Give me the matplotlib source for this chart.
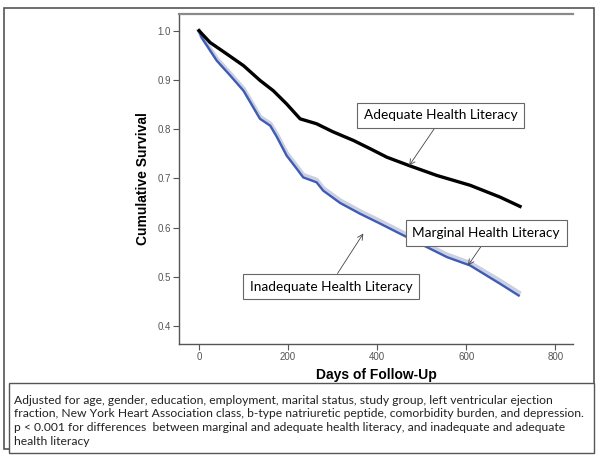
import matplotlib
matplotlib.use("Agg")
import matplotlib.pyplot as plt
from matplotlib.patches import Rectangle

# ---- data ----
adequate_days = [0, 25, 62, 100, 137, 167, 197, 227, 264, 300, 347, 385, 422, 472, 534, 609, 676, 721]
adequate_surv = [1.0, 0.976, 0.953, 0.929, 0.899, 0.878, 0.851, 0.821, 0.811, 0.795, 0.777, 0.760, 0.743, 0.726, 0.706, 0.686, 0.662, 0.643]

inadequate_days = [0, 6, 40, 70, 100, 115, 137, 160, 175, 197, 220, 234, 264, 279, 317, 362, 407, 444, 497, 557, 609, 676, 718]
inadequate_surv = [1.0, 0.986, 0.939, 0.909, 0.878, 0.855, 0.821, 0.807, 0.784, 0.746, 0.719, 0.702, 0.692, 0.675, 0.650, 0.628, 0.608, 0.591, 0.567, 0.540, 0.523, 0.486, 0.462]

marginal_days = [0, 6, 40, 70, 100, 115, 137, 160, 175, 197, 220, 234, 264, 279, 317, 362, 407, 444, 497, 557, 609, 676, 718]
marginal_surv = [1.0, 0.988, 0.943, 0.913, 0.882, 0.859, 0.825, 0.811, 0.789, 0.751, 0.724, 0.707, 0.697, 0.680, 0.655, 0.633, 0.613, 0.596, 0.572, 0.545, 0.528, 0.492, 0.468]

x_ticks = [0, 200, 400, 600, 800]
y_ticks = [0.4, 0.5, 0.6, 0.7, 0.8, 0.9, 1.0]

footnote_lines = [
    "Adjusted for age, gender, education, employment, marital status, study group, left ventricular ejection",
    "fraction, New York Heart Association class, b-type natriuretic peptide, comorbidity burden, and depression.",
    "p < 0.001 for differences  between marginal and adequate health literacy, and inadequate and adequate",
    "health literacy",
]

W, H = 600, 461
plt.rcParams["font.family"] = ["Liberation Sans", "DejaVu Sans"]
fig = plt.figure(figsize=(6, 4.61), dpi=100)
fig.patch.set_facecolor("white")

ax = fig.add_axes([179 / W, 1 - 344 / H, (573 - 179) / W, (344 - 14) / H])
ax.set_xlim(-45, 840)
ax.set_ylim(0.3635, 1.034)

ax.plot(marginal_days, marginal_surv, color="#c9d0e2", lw=3.2, solid_joinstyle="round", zorder=2)
ax.plot(inadequate_days, inadequate_surv, color="#3f5bb5", lw=1.7, solid_joinstyle="round", zorder=3)
ax.plot(adequate_days, adequate_surv, color="black", lw=2.4, solid_joinstyle="round", zorder=4)

ax.spines["right"].set_visible(False)
for s in ["left", "bottom"]:
    ax.spines[s].set_color("#555555")
    ax.spines[s].set_linewidth(1.0)
ax.spines["top"].set_color("#8a8a8a")
ax.spines["top"].set_linewidth(1.6)

ax.set_xticks(x_ticks)
ax.set_yticks(y_ticks)
ax.set_yticklabels([f"{v:.1f}" for v in y_ticks])
ax.tick_params(axis="both", direction="out", length=4, width=0.8, color="#555555",
               labelsize=7, labelcolor="#555555", pad=2)

ax.set_xlabel("Days of Follow-Up", fontsize=10, fontweight="bold", labelpad=4)
ax.set_ylabel("Cumulative Survival", fontsize=10, fontweight="bold", labelpad=5)

box = dict(boxstyle="square,pad=0.5", fc="white", ec="#666666", lw=0.8)
arrow = dict(arrowstyle="->", color="#444444", lw=0.6, shrinkA=0, shrinkB=0)
fam = ["Lato", "DejaVu Sans"]

ax.annotate("Adequate Health Literacy", xy=(472, 0.726), xytext=(543, 0.828),
            ha="center", va="center", fontsize=9.8, family=fam, bbox=box,
            arrowprops=dict(arrow, relpos=(0.49, 0.0)), zorder=6)
ax.annotate("Marginal Health Literacy", xy=(604, 0.523), xytext=(645, 0.589),
            ha="center", va="center", fontsize=9.8, family=fam, bbox=box,
            arrowprops=dict(arrow, relpos=(0.5, 0.0)), zorder=6)
ax.annotate("Inadequate Health Literacy", xy=(369, 0.588), xytext=(297, 0.480),
            ha="center", va="center", fontsize=9.8, family=fam, bbox=box,
            arrowprops=dict(arrow, relpos=(0.51, 1.0)), zorder=6)

# outer frame and footnote box
fig.add_artist(Rectangle((4 / W, 1 - 449 / H), 590 / W, 441 / H, transform=fig.transFigure,
                         fill=False, ec="#555555", lw=1.2))
fig.add_artist(Rectangle((9 / W, 1 - 453 / H), 585 / W, 70 / H, transform=fig.transFigure,
                         fc="white", ec="#555555", lw=1.0))

for i, line in enumerate(footnote_lines):
    fig.text(14 / W, 1 - (400 + 13.7 * i) / H, line, ha="left", va="center",
             fontsize=8.7, family=fam, color="#222222")

fig.savefig("out.png", dpi=100)
